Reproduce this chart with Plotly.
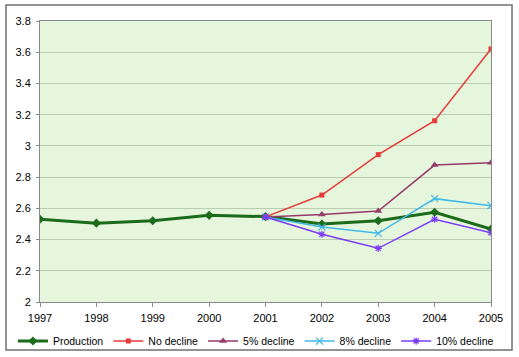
import plotly.graph_objects as go

years = [1997, 1998, 1999, 2000, 2001, 2002, 2003, 2004, 2005]
scen_years = [2001, 2002, 2003, 2004, 2005]
production = [2.53, 2.505, 2.52, 2.555, 2.547, 2.50, 2.52, 2.575, 2.468]
no_decline = [2.545, 2.685, 2.944, 3.161, 3.621]
decline5 = [2.545, 2.56, 2.583, 2.877, 2.892]
decline8 = [2.545, 2.48, 2.44, 2.662, 2.617]
decline10 = [2.545, 2.434, 2.344, 2.53, 2.444]
y_ticks = [2, 2.2, 2.4, 2.6, 2.8, 3, 3.2, 3.4, 3.6, 3.8]

FONT = "Liberation Sans, Arial, sans-serif"

fig = go.Figure()
fig.add_trace(go.Scatter(x=years, y=production, name="Production", mode="lines+markers",
                         line=dict(color="#1b6b1b", width=3),
                         marker=dict(symbol="diamond", size=7, color="#1b6b1b")))
fig.add_trace(go.Scatter(x=scen_years, y=no_decline, name="No decline", mode="lines+markers",
                         line=dict(color="#e33b3b", width=1.5),
                         marker=dict(symbol="square", size=5, color="#e33b3b")))
fig.add_trace(go.Scatter(x=scen_years, y=decline5, name="5% decline", mode="lines+markers",
                         line=dict(color="#963a6a", width=1.5),
                         marker=dict(symbol="triangle-up", size=7, color="#963a6a")))
fig.add_trace(go.Scatter(x=scen_years, y=decline8, name="8% decline", mode="lines+markers",
                         line=dict(color="#3fb8ea", width=1.5),
                         marker=dict(symbol="x-thin-open", size=7, color="#3fb8ea",
                                     line=dict(color="#3fb8ea", width=1.2))))
fig.add_trace(go.Scatter(x=scen_years, y=decline10, name="10% decline", mode="lines+markers",
                         line=dict(color="#7b3cf5", width=1.5),
                         marker=dict(symbol="asterisk-open", size=6, color="#7b3cf5",
                                     line=dict(color="#7b3cf5", width=1.2))))

fig.update_layout(
    width=519, height=357,
    margin=dict(l=40, r=28, t=21, b=55, autoexpand=False),
    paper_bgcolor="white",
    plot_bgcolor="#e6f6dc",
    font=dict(family=FONT, size=11, color="#000000"),
    showlegend=True,
    legend=dict(orientation="h", x=-0.06, xanchor="left", y=-0.139, yanchor="middle",
                font=dict(size=10.5, family=FONT), itemwidth=30, tracegroupgap=0,
                bgcolor="rgba(0,0,0,0)"),
    xaxis=dict(range=[1997, 2005], tickmode="array", tickvals=years,
               ticktext=[str(y) for y in years], showgrid=False,
               showline=True, linecolor="#8a8a8a", mirror=True,
               ticks="outside", ticklen=4, tickcolor="#8a8a8a", zeroline=False,
               ticklabelstandoff=2),
    yaxis=dict(range=[2, 3.8], tickmode="array", tickvals=y_ticks,
               ticktext=[f"{v:g}" for v in y_ticks], showgrid=True,
               gridcolor="#b9cdb0", gridwidth=1,
               showline=True, linecolor="#8a8a8a", mirror=True,
               ticks="outside", ticklen=3, tickcolor="#8a8a8a", zeroline=False,
               ticklabelstandoff=3),
)

fig.add_shape(type="rect", xref="paper", yref="paper",
              x0=-0.0754, x1=1.0466, y0=-0.1708, y1=1.057,
              line=dict(color="#707070", width=1.5), layer="below")

fig.write_html("out.html", config={"displayModeBar": False},
               post_script="document.body.style.margin='0';document.body.style.overflow='hidden';")
